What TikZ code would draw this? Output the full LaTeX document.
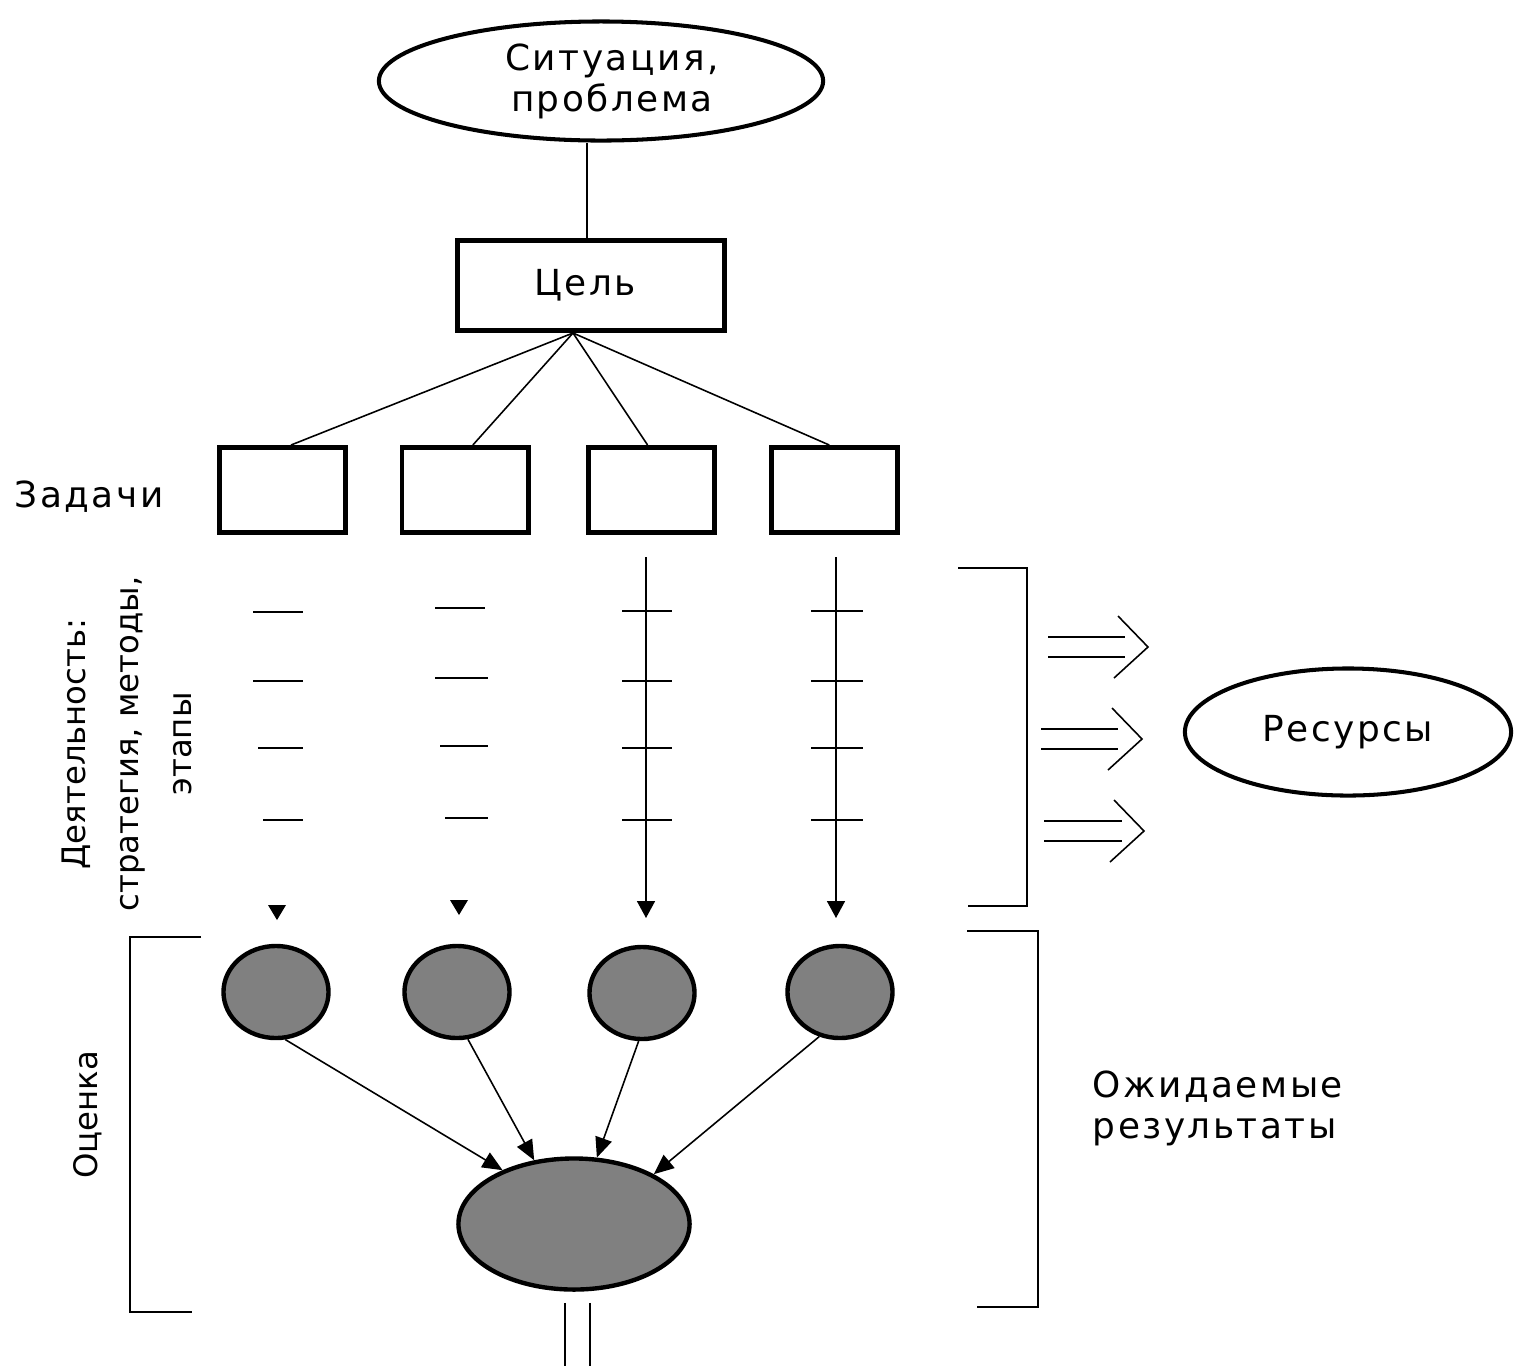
\documentclass[tikz,border=0pt]{standalone}
\usepackage{fontspec}
\setmainfont{DejaVu Sans}
\newfontfamily\hfont[LetterSpace=7]{DejaVu Sans}
\newfontfamily\vfont{DejaVu Sans}
\usetikzlibrary{shapes.geometric,arrows.meta,calc}
\begin{document}
\begin{tikzpicture}[x=0.01cm,y=-0.01cm,
  htxt/.style={font=\hfont\fontsize{10.2}{11.7}\selectfont},
  vtxt/.style={font=\vfont\fontsize{9.2}{15}\selectfont, rotate=90, align=center, inner sep=0},
  ellbox/.style={ellipse, draw, line width=1.15pt, inner sep=0, fill=white, htxt, align=center},
  taskbox/.style={rectangle, draw, line width=1.4pt, inner sep=0, minimum width=1.26cm, minimum height=0.85cm},
  resnode/.style={ellipse, draw, line width=1.25pt, fill=black!50, inner sep=0},
  thin/.style={line width=0.45pt},
  tri/.style={-{Triangle[width=0.18cm,length=0.17cm]}, thin},
  ftri/.style={-{Triangle[width=0.17cm,length=0.2cm]}, thin}]
\fill[white] (0,0) rectangle (1521,1366);
\useasboundingbox (0,0) rectangle (1521,1366);

% top
\node[ellbox, minimum width=4.44cm, minimum height=1.19cm] (sit) at (601,81) {\hspace*{0.22cm}Ситуация,\\\hspace*{0.22cm}проблема};
\node[taskbox, htxt, minimum width=2.67cm, minimum height=0.90cm] (cel) at (591,285.5) {Цель\hspace*{0.12cm}};
\draw[thin] (cel.north) ++(-4,0) coordinate (cn) -- (cn |- sit.south);

% tasks
\node[htxt, inner sep=0] (zad) at (89,497) {Задачи};
\node[taskbox] (t1) at (282.5,490) {};
\node[taskbox] (t2) at (465,490) {};
\node[taskbox] (t3) at (651.5,490) {};
\node[taskbox] (t4) at (834.5,490) {};
\coordinate (apex) at (573,333);
\draw[thin] (apex) -- ($(t1.north west)!0.565!(t1.north east)$);
\draw[thin] (apex) -- ($(t2.north west)!0.56!(t2.north east)$);
\draw[thin] (apex) -- ($(t3.north west)!0.47!(t3.north east)$);
\draw[thin] (apex) -- ($(t4.north west)!0.46!(t4.north east)$);

% activity label
\node[vtxt] (act) at (127,744) {Деятельность:\\стратегия, методы,\\этапы};

% dashes
\foreach \a/\b/\y in {253/303/612,253/303/681,258/303/748,263/303/820,
                      435/485/608,435/488/678,440/488/746,445/488/818,
                      622/672/611,622/672/681,622/672/748,622/672/820,
                      811/863/611,811/863/681,811/863/748,811/863/820}
  \draw[thin] (\a,\y) -- (\b,\y);
\fill (268,905) -- (286,905) -- (277,920) -- cycle;
\fill (450,900) -- (468,900) -- (459,915) -- cycle;
\coordinate (a3s) at (646,557); \coordinate (a3e) at (646,918);
\coordinate (a4s) at (836,557); \coordinate (a4e) at (836,918);
\draw[tri] (a3s) -- (a3e);
\draw[tri] (a4s) -- (a4e);

% bracket for activity and resources
\draw[thin] (958,568) -- (1027,568) -- (1027,906) -- (968,906);
\foreach \xa/\xb/\y/\tx in {1048/1125/647/1148, 1041/1118/739/1142, 1044/1122/831/1144}{
  \draw[thin] (\xa,\y-10) -- (\xb,\y-10);
  \draw[thin] (\xa,\y+10) -- (\xb,\y+10);
  \draw[thin] (\tx-30,\y-31) -- (\tx,\y) -- (\tx-34,\y+31);
}
\node[ellbox, minimum width=3.26cm, minimum height=1.27cm] (res) at (1348,732) {Ресурсы};

% results
\node[resnode, minimum width=1.05cm, minimum height=0.92cm] (c1) at (276,992) {};
\node[resnode, minimum width=1.05cm, minimum height=0.92cm] (c2) at (457,992) {};
\node[resnode, minimum width=1.05cm, minimum height=0.92cm] (c3) at (642,993) {};
\node[resnode, minimum width=1.05cm, minimum height=0.92cm] (c4) at (840,992) {};
\node[resnode, minimum width=2.31cm, minimum height=1.31cm] (big) at (574,1224) {};
\draw[ftri] (c1.-79) -- (big.143);
\draw[ftri] (c2.-77) -- (big.122.6);
\draw[ftri] (c3.-94) -- (big.71.6);
\draw[ftri] (c4.-115) -- (big.32.7);
\draw[thin] ($(big.south)+(-9,11)$) coordinate (d1) -- (d1 |- 0,1366);
\draw[thin] ($(big.south)+(16,11)$) coordinate (d2) -- (d2 |- 0,1366);

% brackets
\draw[thin] (201,937) -- (130,937) -- (130,1312) -- (192,1312);
\node[vtxt] (oc) at (88,1115) {Оценка};
\draw[thin] (967,931) -- (1038,931) -- (1038,1307) -- (977,1307);
\node[htxt, align=left, anchor=west, inner sep=0] (exp) at (1092,1108) {Ожидаемые\\результаты};
\end{tikzpicture}
\end{document}
